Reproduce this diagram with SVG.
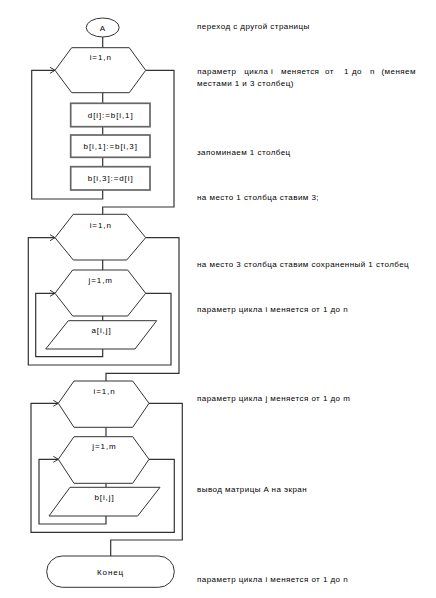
<svg xmlns="http://www.w3.org/2000/svg" width="436" height="598" viewBox="0 0 436 598">
<style>
.s{fill:#fff;stroke:#333;stroke-width:1}
.b{fill:#fff;stroke:#666;stroke-width:1.7}
.c{fill:none;stroke:#333;stroke-width:1.2}
.t{font-family:"Liberation Sans",Arial,sans-serif;font-size:8px;fill:#000;letter-spacing:0.45px}
.l{letter-spacing:0.9px}
.m{text-anchor:middle}
</style>
<defs>
<marker id="ar" markerWidth="8" markerHeight="8" refX="6" refY="4" orient="auto" markerUnits="userSpaceOnUse">
<path d="M1,1 L6,4 L1,7" fill="none" stroke="#333" stroke-width="1"/>
</marker>
</defs>
<rect width="436" height="598" fill="#fff"/>
<g id="connectors">
<path class="c" d="M102.7,37 V47.7"/>
<path class="c" d="M102.7,92.7 V103.3 M102.7,126.7 V135 M102.7,157.3 V166.7"/>
<path class="c" d="M102.7,190 V199 H31.7 V70.3 H55" marker-end="url(#ar)"/>
<path class="c" d="M145.7,70.3 H174 V207 H102.7 V214.3"/>
<path class="c" d="M102.7,260 V270 M102.7,316 V320.7"/>
<path class="c" d="M102.7,349 V356.7 H35.7 V293.3 H55" marker-end="url(#ar)"/>
<path class="c" d="M145.7,293.3 H171 V365 H28.3 V237.7 H55" marker-end="url(#ar)"/>
<path class="c" d="M145.7,237.7 H179 V373.3 H106 V381"/>
<path class="c" d="M106,427.3 V436.7 M106,483.3 V487.3"/>
<path class="c" d="M106,516 V524 H39 V459.3 H58.3" marker-end="url(#ar)"/>
<path class="c" d="M149,459.3 H174.3 V532.3 H31 V403.3 H58.3" marker-end="url(#ar)"/>
<path class="c" d="M149,403.3 H182.3 V540 H110.7 V556"/>
</g>
<g id="start">
<ellipse class="s" cx="102.7" cy="27.5" rx="16.5" ry="9.5"/>
<text class="t m" x="102.7" y="30.5">A</text>
</g>
<g id="loop1">
<polygon class="s" points="71.7,47.7 129.3,47.7 145.7,70.3 129.3,92.7 71.7,92.7 55,70.3"/>
<text class="t l m" x="100.7" y="60">i=1,n</text>
</g>
<g id="assign1">
<rect class="b" x="70.7" y="103.3" width="79.3" height="23.4"/>
<text class="t l m" x="110.7" y="118">d[i]:=b[i,1]</text>
</g>
<g id="assign2">
<rect class="b" x="70.7" y="135" width="79.3" height="22.3"/>
<text class="t l m" x="110.7" y="149">b[i,1]:=b[i,3]</text>
</g>
<g id="assign3">
<rect class="b" x="70.7" y="166.7" width="79.3" height="23.3"/>
<text class="t l m" x="110.7" y="181">b[i,3]:=d[i]</text>
</g>
<g id="loop2">
<polygon class="s" points="73.3,214.3 126.7,214.3 145.7,237.7 126.7,260 73.3,260 55,237.7"/>
<text class="t l m" x="100.7" y="228">i=1,n</text>
</g>
<g id="loop3">
<polygon class="s" points="72.7,270 127.7,270 145.7,293.3 127.7,316 72.7,316 55,293.3"/>
<text class="t l m" x="100.7" y="283">j=1,m</text>
</g>
<g id="input">
<polygon class="s" points="68.3,320.7 156.7,320.7 135,349 45.7,349"/>
<text class="t l m" x="101.5" y="333">a[i,j]</text>
</g>
<g id="loop4">
<polygon class="s" points="74,381 132.7,381 149,403.3 132.7,427.3 74,427.3 58.3,403.3"/>
<text class="t l m" x="104.5" y="393.5">i=1,n</text>
</g>
<g id="loop5">
<polygon class="s" points="74,436.7 132.7,436.7 149,459.3 132.7,483.3 74,483.3 58.3,459.3"/>
<text class="t l m" x="104.5" y="449">j=1,m</text>
</g>
<g id="output">
<polygon class="s" points="70,487.3 160,487.3 137.7,516 49,516"/>
<text class="t l m" x="104.5" y="500">b[i,j]</text>
</g>
<g id="end">
<rect class="s" x="46.7" y="556" width="127.6" height="31.3" rx="15.6" ry="15.6"/>
<text class="t l m" x="110.5" y="574.5">Конец</text>
</g>
<g id="notes">
<text class="t" x="197" y="29">переход с другой страницы</text>
<text class="t" y="74"><tspan x="197.3">параметр</tspan><tspan x="244.3">цикла</tspan><tspan x="271">i</tspan><tspan x="281">меняется</tspan><tspan x="325">от</tspan><tspan x="344">1</tspan><tspan x="352">до</tspan><tspan x="370">n</tspan><tspan x="381.5">(меняем</tspan></text>
<text class="t" x="197" y="85.5">местами 1 и 3 столбец)</text>
<text class="t" x="197" y="154.5">запоминаем 1 столбец</text>
<text class="t" x="197" y="199.5">на место 1 столбца ставим 3;</text>
<text class="t" x="197" y="267">на место 3 столбца ставим сохраненный 1 столбец</text>
<text class="t" x="197" y="312">параметр цикла i меняется от 1 до n</text>
<text class="t" x="197" y="401">параметр цикла j меняется от 1 до m</text>
<text class="t" x="197" y="492">вывод матрицы A на экран</text>
<text class="t" x="197" y="582">параметр цикла i меняется от 1 до n</text>
</g>
</svg>
